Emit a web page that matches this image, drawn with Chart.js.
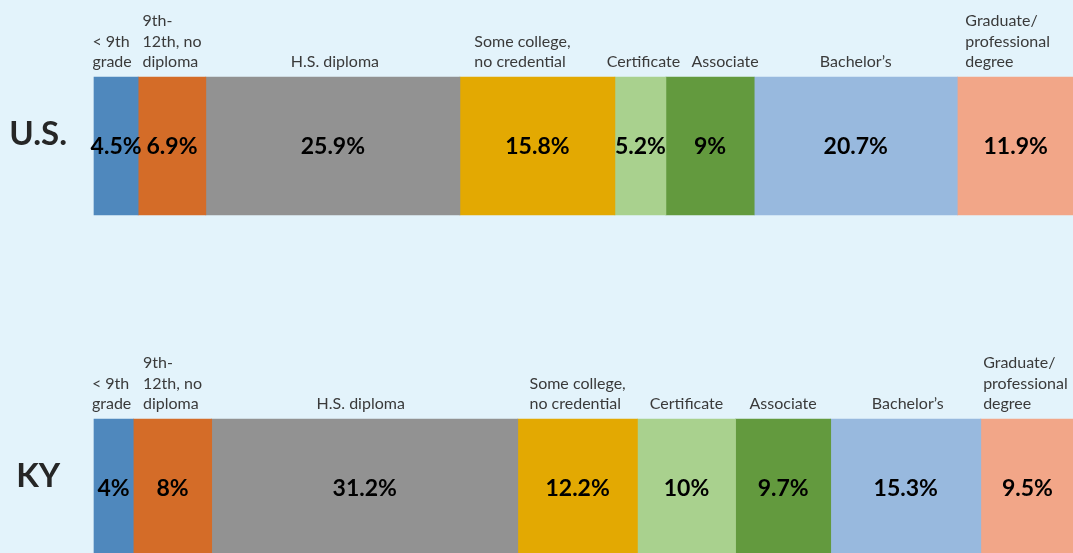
<!DOCTYPE html>
<html>
<head>
<meta charset="utf-8">
<script src="https://cdn.jsdelivr.net/npm/chart.js@4.4.1/dist/chart.umd.min.js"></script>
<style>
html,body{margin:0;padding:0;background:#e3f3fb;overflow:hidden;}
#wrap{position:relative;width:1075px;height:553px;}
canvas{display:block;}
</style>
</head>
<body>
<div id="wrap"><canvas id="c" width="1075" height="553"></canvas></div>
<script>
const regions = ['U.S.', 'KY'];
const levels = [
  ['< 9th', 'grade'],
  ['9th-', '12th, no', 'diploma'],
  ['H.S. diploma'],
  ['Some college,', 'no credential'],
  ['Certificate'],
  ['Associate'],
  ['Bachelor’s'],
  ['Graduate/', 'professional', 'degree']
];
const usShares = [4.5, 6.9, 25.9, 15.8, 5.2, 9, 20.7, 11.9];
const kyShares = [4, 8, 31.2, 12.2, 10, 9.7, 15.3, 9.5];
const levelColors = ['#4f88bd', '#d46c28', '#929292', '#e3a902', '#a9d18e', '#639a3e', '#98b9de', '#f2a688'];

const segLabels = {
  id: 'segLabels',
  afterDatasetsDraw(chart, args, opts) {
    const ctx = chart.ctx;
    chart.data.datasets.forEach((ds, di) => {
      const meta = chart.getDatasetMeta(di);
      meta.data.forEach((bar, idx) => {
        const p = bar.getProps(['x', 'y', 'base', 'height'], true);
        const cx = (p.x + p.base) / 2;
        ctx.save();
        ctx.font = 'bold 23px Lato';
        ctx.fillStyle = '#000000';
        ctx.textAlign = 'center';
        ctx.textBaseline = 'middle';
        ctx.fillText(ds.data[idx] + '%', cx, p.y + 1);
        ctx.font = '16px Lato';
        ctx.fillStyle = '#3a3a3a';
        const lines = levels[di];
        const w = Math.max(...lines.map(l => ctx.measureText(l).width));
        ctx.textAlign = 'left';
        ctx.textBaseline = 'alphabetic';
        const top = p.y - p.height / 2;
        const nudge = (opts.nudge[idx] || [])[di] || 0;
        lines.forEach((ln, k) => {
          ctx.fillText(ln, cx - w / 2 + nudge, top - 10 - (lines.length - 1 - k) * 20.5);
        });
        ctx.restore();
      });
    });
  }
};

function build() {
  new Chart(document.getElementById('c'), {
    type: 'bar',
    data: {
      labels: regions,
      datasets: levels.map((lv, i) => ({
        label: lv.join(' '),
        data: [usShares[i], kyShares[i]],
        backgroundColor: levelColors[i],
        borderWidth: 0,
        barThickness: 138,
        clip: false
      }))
    },
    options: {
      indexAxis: 'y',
      responsive: false,
      animation: false,
      layout: { padding: { top: 146, bottom: 65, left: 0, right: 0 } },
      plugins: {
        legend: { display: false },
        tooltip: { enabled: false },
        segLabels: {
          nudge: [
            [-4, 0, 2, -15, 3, 15, 0, -8],
            [-2, 0, -4, 0, 0, 0, 2, -2]
          ]
        }
      },
      scales: {
        x: { stacked: true, min: 0, max: 100, display: false },
        y: {
          stacked: true,
          offset: false,
          grid: { display: false, drawTicks: false },
          border: { display: false },
          ticks: {
            font: { family: 'Lato', weight: 'bold', size: 33 },
            color: '#262626',
            crossAlign: 'center',
            padding: 27,
            labelOffset: -12
          },
          afterFit: s => { s.width = 94; }
        }
      }
    },
    plugins: [segLabels]
  });
}
Promise.all([
  document.fonts.load('16px Lato'),
  document.fonts.load('bold 23px Lato')
]).then(build, build);
</script>
</body>
</html>
